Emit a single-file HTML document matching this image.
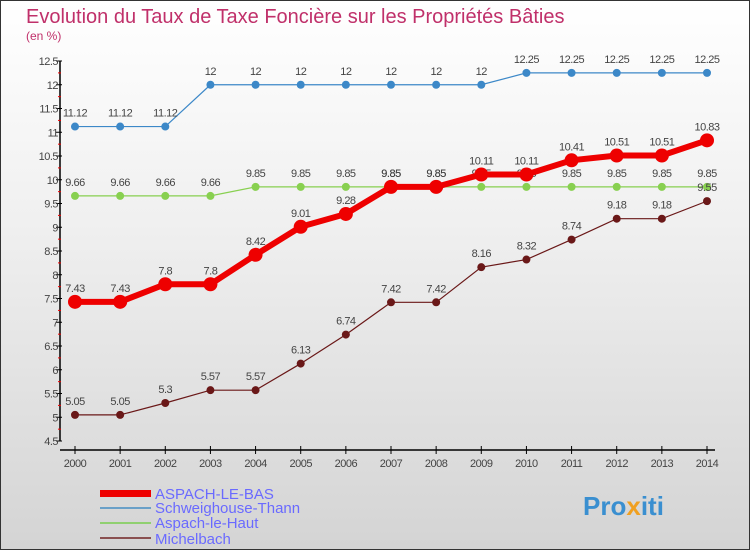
<!DOCTYPE html>
<html><head><meta charset="utf-8"><style>
body{margin:0}
#c{width:750px;height:550px;position:relative;box-sizing:border-box;border:1px solid #333;background:linear-gradient(#fff 0%,#f0f0f0 40%,#d4d4d4 100%);font-family:"Liberation Sans",sans-serif;overflow:hidden}
</style></head><body>
<div id="c">
<svg id="s" width="750" height="550" style="position:absolute;left:-1px;top:-1px">
<text x="26" y="23" font-size="20" fill="#c0306a">Evolution du Taux de Taxe Foncière sur les Propriétés Bâties</text>
<text x="26" y="40" font-size="12" fill="#c0306a">(en %)</text>
<g id="ax"></g><g id="ser"></g>
<g>
<rect x="100" y="490" width="51" height="7" fill="#e00"/>
<text x="155" y="499" font-size="15" fill="#6a6aff">ASPACH-LE-BAS</text>
<rect x="100" y="507" width="51" height="2" fill="#6aa0c8"/>
<text x="155" y="513" font-size="15" fill="#6a6aff">Schweighouse-Thann</text>
<rect x="100" y="522" width="51" height="2" fill="#90d070"/>
<text x="155" y="528" font-size="15" fill="#6a6aff">Aspach-le-Haut</text>
<rect x="100" y="537" width="51" height="2" fill="#8a5050"/>
<text x="155" y="544" font-size="15" fill="#6a6aff">Michelbach</text>
</g>
<text x="583" y="515" font-size="26" font-weight="bold" fill="#3a8fd0">Pro<tspan fill="#f0a020">x</tspan>iti</text>
</svg>
</div>
<script>
const years=[2000,2001,2002,2003,2004,2005,2006,2007,2008,2009,2010,2011,2012,2013,2014];
const aspachBas=[7.43,7.43,7.8,7.8,8.42,9.01,9.28,9.85,9.85,10.11,10.11,10.41,10.51,10.51,10.83];
const schweig=[11.12,11.12,11.12,12,12,12,12,12,12,12,12.25,12.25,12.25,12.25,12.25];
const aspachHaut=[9.66,9.66,9.66,9.66,9.85,9.85,9.85,9.85,9.85,9.85,9.85,9.85,9.85,9.85,9.85];
const michel=[5.05,5.05,5.3,5.57,5.57,6.13,6.74,7.42,7.42,8.16,8.32,8.74,9.18,9.18,9.55];
const yTicks=[4.5,5,5.5,6,6.5,7,7.5,8,8.5,9,9.5,10,10.5,11,11.5,12,12.5];
const NS="http://www.w3.org/2000/svg";
const X=i=>75+i*(632/14);
const Y=v=>61+(12.5-v)*47.5;
function mk(t,a,p){const e=document.createElementNS(NS,t);for(const k in a)e.setAttribute(k,a[k]);p.appendChild(e);return e;}
const ax=document.getElementById('ax'),ser=document.getElementById('ser');
let e=mk('line',{x1:60,y1:Y(12.5),x2:60,y2:Y(4.5),stroke:'#000','stroke-width':1.5},ax);


e=mk('line',{x1:60,y1:450,x2:715,y2:450,stroke:'#000','stroke-width':1.5},ax);


yTicks.forEach((v,i)=>{
 mk('line',{x1:56,x2:62,y1:Y(v),y2:Y(v),stroke:'#000'},ax);
 if(i>0) mk('line',{x1:58,x2:61,y1:Y(v)+11.9,y2:Y(v)+11.9,stroke:'#e00'},ax);
 const t=mk('text',{x:58,y:Y(v)+4,'text-anchor':'end','font-size':11,fill:'#444','letter-spacing':'-0.5'},ax);
 t.textContent=v;
 
 
});
years.forEach((y,i)=>{
 mk('line',{x1:X(i),x2:X(i),y1:446,y2:454,stroke:'#000'},ax);
 const t=mk('text',{x:X(i),y:467,'text-anchor':'middle','font-size':11,fill:'#444','letter-spacing':'-0.5'},ax);
 t.textContent=y;
 
 
});
function series(vals,color,w,r,name){
 const g=mk('g',{},ser);
 
 
 const pl=mk('polyline',{points:vals.map((v,i)=>X(i)+','+Y(v)).join(' '),fill:'none',stroke:color,'stroke-width':w},g);
 
 
 vals.forEach((v,i)=>{
  const c=mk('circle',{cx:X(i),cy:Y(v),r:r,fill:color},g);
  
  
  const t=mk('text',{x:X(i),y:Y(v)-10,'text-anchor':'middle','font-size':11,fill:'#444','letter-spacing':'-0.5'},g);
  t.textContent=v;
  
  
 });
}
series(schweig,'#3c88c8',1.2,4,'schweighouse-thann');
series(aspachHaut,'#88d050',1.2,4,'aspach-le-haut');
series(michel,'#6a1818',1.2,4,'michelbach');
series(aspachBas,'#ee0000',6,7,'aspach-le-bas');
</script>
</body></html>
